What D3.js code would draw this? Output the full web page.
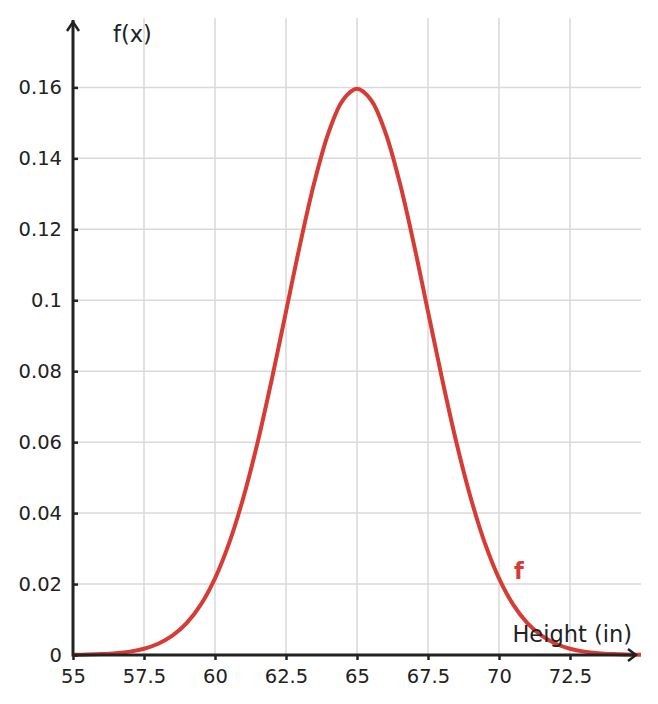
<!DOCTYPE html>
<html>
<head>
<meta charset="utf-8">
<script src="https://cdn.jsdelivr.net/npm/d3@7"></script>
<style>
  body { margin: 0; background: #fff; }
  svg { display: block; font-family: "DejaVu Sans", sans-serif; }
</style>
</head>
<body>
<svg id="chart" width="658" height="704"></svg>
<script>
// heights (in) and density
const heights = [55, 55.5, 56, 56.5, 57, 57.5, 58, 58.5, 59, 59.5, 60, 60.5, 61, 61.5, 62, 62.5, 63, 63.5, 64, 64.5,
  65, 65.5, 66, 66.5, 67, 67.5, 68, 68.5, 69, 69.5, 70, 70.5, 71, 71.5, 72, 72.5, 73, 73.5, 74, 74.5, 75];
const density = [0.00005, 0.00012, 0.00025, 0.00049, 0.00095, 0.00177, 0.00317, 0.00543, 0.00896, 0.0142, 0.0216,
  0.0316, 0.0444, 0.0599, 0.0777, 0.0968, 0.1159, 0.1333, 0.1473, 0.1564, 0.1596,
  0.1564, 0.1473, 0.1333, 0.1159, 0.0968, 0.0777, 0.0599, 0.0444, 0.0316, 0.0216,
  0.0142, 0.00896, 0.00543, 0.00317, 0.00177, 0.00095, 0.00049, 0.00025, 0.00012, 0.00005];
const xTicks = [55, 57.5, 60, 62.5, 65, 67.5, 70, 72.5];
const yTicks = [0, 0.02, 0.04, 0.06, 0.08, 0.1, 0.12, 0.14, 0.16];

const svg = d3.select('#chart');
const x = d3.scaleLinear().domain([55, 75]).range([73, 641]);
const y = d3.scaleLinear().domain([0, 0.179]).range([655, 20]);
const red = '#d63c35', ink = '#222';

// grid
const grid = svg.append('g').attr('stroke', '#d9d9d9').attr('stroke-width', 1.5);
grid.selectAll('.vg').data(xTicks.slice(1)).enter().append('line')
  .attr('x1', d => x(d)).attr('x2', d => x(d)).attr('y1', 18).attr('y2', y(0));
grid.selectAll('.hg').data(yTicks.slice(1)).enter().append('line')
  .attr('x1', x(55)).attr('x2', x(75)).attr('y1', d => y(d)).attr('y2', d => y(d));

// curve
const pts = heights.map((h, i) => [h, density[i]]);
svg.append('path').datum(pts)
  .attr('fill', 'none').attr('stroke', red).attr('stroke-width', 4)
  .attr('d', d3.line().x(d => x(d[0])).y(d => y(d[1])).curve(d3.curveCatmullRom));

// axes
const xAxis = svg.append('g').attr('transform', `translate(0,${y(0)})`)
  .call(d3.axisBottom(x).tickValues(xTicks).tickSize(5).tickPadding(5).tickFormat(d3.format('')));
const yAxis = svg.append('g').attr('transform', `translate(${x(55)},0)`)
  .call(d3.axisRight(y).tickValues(yTicks).tickSize(5).tickFormat(d3.format('')));
xAxis.select('.domain').remove();
yAxis.select('.domain').remove();
[xAxis, yAxis].forEach(a => {
  a.selectAll('line').attr('stroke', ink).attr('stroke-width', 2.5);
  a.selectAll('text').attr('fill', ink).attr('font-size', 19.5).attr('font-family', '"DejaVu Sans", sans-serif');
});
xAxis.selectAll('text').attr('dy', '0.92em');
yAxis.selectAll('text').attr('x', -11).attr('text-anchor', 'end');

// axis lines with arrows
svg.append('line').attr('x1', x(55)).attr('x2', 636).attr('y1', y(0)).attr('y2', y(0))
  .attr('stroke', ink).attr('stroke-width', 3);
svg.append('line').attr('x1', x(55)).attr('x2', x(55)).attr('y1', y(0) + 1.5).attr('y2', 20)
  .attr('stroke', ink).attr('stroke-width', 3);
svg.append('path').attr('d', `M${628},${y(0) - 6}L636,${y(0)}L${628},${y(0) + 6}`)
  .attr('fill', 'none').attr('stroke', ink).attr('stroke-width', 2.5);
svg.append('path').attr('d', `M${x(55) - 6},31L${x(55)},22L${x(55) + 6},31`)
  .attr('fill', 'none').attr('stroke', ink).attr('stroke-width', 2.5);

// labels
svg.append('text').attr('x', 113).attr('y', 42).attr('font-size', 22.5).attr('fill', ink).text('f(x)');
svg.append('text').attr('x', 632).attr('y', 642).attr('text-anchor', 'end').attr('font-size', 22.5).attr('fill', ink).text('Height (in)');
svg.append('text').attr('x', 514).attr('y', 579).attr('font-size', 22.5).attr('font-weight', 'bold').attr('fill', red).text('f');
</script>
</body>
</html>
